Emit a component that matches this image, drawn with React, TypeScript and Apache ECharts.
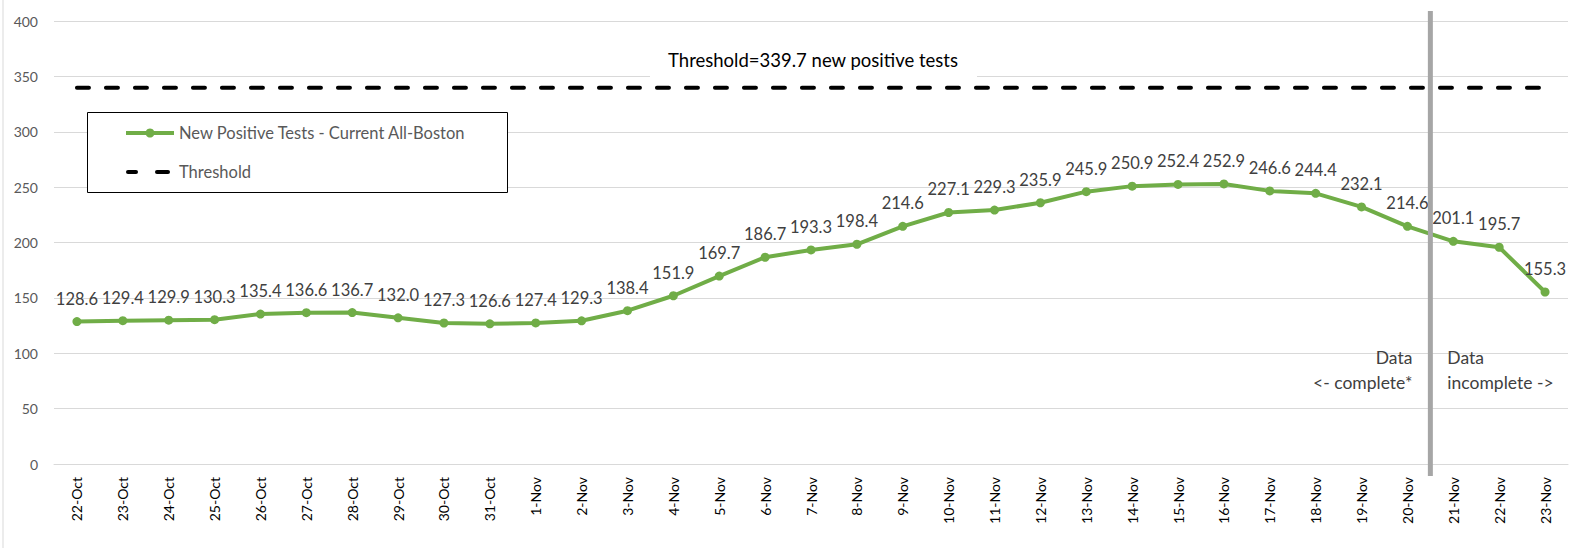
import React, { useEffect, useRef } from "react";
import * as echarts from "echarts";

const categories = [
  "22-Oct", "23-Oct", "24-Oct", "25-Oct", "26-Oct", "27-Oct", "28-Oct", "29-Oct", "30-Oct", "31-Oct",
  "1-Nov", "2-Nov", "3-Nov", "4-Nov", "5-Nov", "6-Nov", "7-Nov", "8-Nov", "9-Nov", "10-Nov",
  "11-Nov", "12-Nov", "13-Nov", "14-Nov", "15-Nov", "16-Nov", "17-Nov", "18-Nov", "19-Nov", "20-Nov",
  "21-Nov", "22-Nov", "23-Nov",
];

const positiveTests = [
  128.6, 129.4, 129.9, 130.3, 135.4, 136.6, 136.7, 132.0, 127.3, 126.6,
  127.4, 129.3, 138.4, 151.9, 169.7, 186.7, 193.3, 198.4, 214.6, 227.1,
  229.3, 235.9, 245.9, 250.9, 252.4, 252.9, 246.6, 244.4, 232.1, 214.6,
  201.1, 195.7, 155.3,
];

const thresholdValue = 339.7;
const thresholdSeries = categories.map(() => thresholdValue);

const seriesNames = ["New Positive Tests - Current All-Boston", "Threshold"];
const yTicks = { min: 0, max: 400, interval: 50 };
const lastCompleteDay = "20-Nov";
const firstIncompleteDay = "21-Nov";

const FONT = "Lato, 'Noto Sans', sans-serif";
const GREEN = "#70AD47";

export default function App() {
  const ref = useRef<HTMLDivElement>(null);

  useEffect(() => {
    if (!ref.current) return;
    const chart = echarts.init(ref.current, undefined, { renderer: "svg" });
    chart.setOption({
      animation: false,
      backgroundColor: "#ffffff",
      textStyle: { fontFamily: FONT },
      grid: { left: 54, right: 17, top: 21, bottom: 84, containLabel: false },
      xAxis: {
        type: "category",
        data: categories,
        boundaryGap: true,
        axisLine: { show: true, lineStyle: { color: "#d9d9d9", width: 1 } },
        axisTick: { show: false },
        axisLabel: {
          rotate: 90,
          margin: 13,
          fontSize: 14,
          color: "#000000",
          fontFamily: FONT,
          interval: 0,
        },
        splitLine: { show: false },
      },
      yAxis: {
        type: "value",
        min: yTicks.min,
        max: yTicks.max,
        interval: yTicks.interval,
        axisLine: { show: false },
        axisTick: { show: false },
        axisLabel: { fontSize: 14, color: "#595959", margin: 16, fontFamily: FONT },
        splitLine: { show: true, lineStyle: { color: "#d9d9d9", width: 1 } },
      },
      series: [
        {
          name: seriesNames[1],
          type: "line",
          data: thresholdSeries,
          symbol: "none",
          z: 2,
          lineStyle: { color: "#000000", width: 4, type: [12, 17], cap: "round" },
          itemStyle: { color: "#000000" },
          silent: true,
        },
        {
          name: seriesNames[0],
          type: "line",
          data: positiveTests,
          symbol: "circle",
          symbolSize: 9,
          z: 3,
          lineStyle: { color: GREEN, width: 4 },
          itemStyle: { color: GREEN },
          label: {
            show: true,
            position: "top",
            distance: 10,
            fontSize: 16.5,
            color: "#404040",
            fontFamily: FONT,
            formatter: (p: any) => Number(p.value).toFixed(1),
          },
        },
      ],
    });

    const xa = chart.convertToPixel({ xAxisIndex: 0 }, lastCompleteDay) as number;
    const xb = chart.convertToPixel({ xAxisIndex: 0 }, firstIncompleteDay) as number;
    const divX = (xa + xb) / 2;

    chart.setOption({
      graphic: [
        {
          type: "line",
          shape: { x1: 3, y1: 0, x2: 3, y2: 548 },
          style: { stroke: "#d9d9d9", lineWidth: 1 },
          z: 1,
        },
        {
          type: "rect",
          shape: { x: divX - 2.5, y: 11, width: 5, height: 465 },
          style: { fill: "#a6a6a6" },
          z: 10,
        },
        {
          type: "rect",
          shape: { x: 650, y: 44, width: 327, height: 33 },
          style: { fill: "#ffffff" },
          z: 5,
        },
        {
          type: "text",
          x: 813,
          y: 60,
          z: 6,
          style: {
            text: "Threshold=339.7 new positive tests",
            fontSize: 18.5,
            fontFamily: FONT,
            fill: "#000000",
            align: "center",
            verticalAlign: "middle",
          },
        },
        {
          type: "text",
          x: divX - 18,
          y: 370,
          z: 6,
          style: {
            text: "Data\n<- complete*",
            fontSize: 17.5,
            lineHeight: 25,
            fontFamily: FONT,
            fill: "#404040",
            align: "right",
            verticalAlign: "middle",
          },
        },
        {
          type: "text",
          x: divX + 17,
          y: 370,
          z: 6,
          style: {
            text: "Data\nincomplete ->",
            fontSize: 17.5,
            lineHeight: 25,
            fontFamily: FONT,
            fill: "#404040",
            align: "left",
            verticalAlign: "middle",
          },
        },
        // legend
        {
          type: "group",
          z: 20,
          children: [
            {
              type: "rect",
              shape: { x: 87.5, y: 112.5, width: 420, height: 80 },
              style: { fill: "#ffffff", stroke: "#000000", lineWidth: 1 },
            },
            {
              type: "line",
              shape: { x1: 126, y1: 133, x2: 174, y2: 133 },
              style: { stroke: GREEN, lineWidth: 4 },
            },
            {
              type: "circle",
              shape: { cx: 150, cy: 133, r: 4.5 },
              style: { fill: GREEN },
            },
            {
              type: "text",
              x: 179,
              y: 133,
              style: {
                text: seriesNames[0],
                fontSize: 16.5,
                fontFamily: FONT,
                fill: "#595959",
                align: "left",
                verticalAlign: "middle",
              },
            },
            {
              type: "line",
              shape: { x1: 128, y1: 172, x2: 136, y2: 172 },
              style: { stroke: "#000000", lineWidth: 4, lineCap: "round" },
            },
            {
              type: "line",
              shape: { x1: 157, y1: 172, x2: 168, y2: 172 },
              style: { stroke: "#000000", lineWidth: 4, lineCap: "round" },
            },
            {
              type: "text",
              x: 179,
              y: 172,
              style: {
                text: seriesNames[1],
                fontSize: 16.5,
                fontFamily: FONT,
                fill: "#595959",
                align: "left",
                verticalAlign: "middle",
              },
            },
          ],
        },
      ],
    });

    return () => chart.dispose();
  }, []);

  return (
    <div
      ref={ref}
      style={{ position: "absolute", left: 0, top: 0, width: 1585, height: 548 }}
    />
  );
}
